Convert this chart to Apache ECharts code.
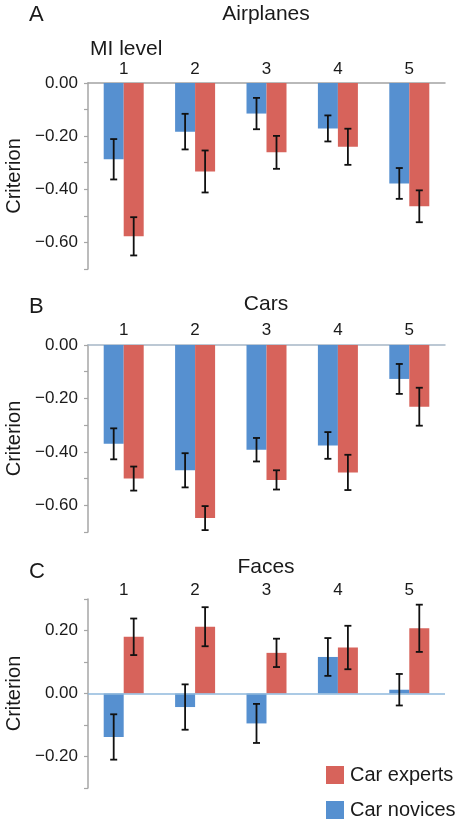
<!DOCTYPE html>
<html>
<head>
<meta charset="utf-8">
<script src="https://cdn.jsdelivr.net/npm/echarts@6/dist/echarts.min.js"></script>
<style>
  html, body { margin: 0; padding: 0; background: #fff; }
  #chart { width: 463px; height: 820px; }
</style>
</head>
<body>
<div id="chart"></div>
<script>
// ---- Data ----
const categories = ['1', '2', '3', '4', '5'];

const airNovices  = [-0.287, -0.183, -0.115, -0.171, -0.378];
const airNovErr   = [0.076, 0.067, 0.059, 0.049, 0.058];
const airExperts  = [-0.577, -0.333, -0.261, -0.240, -0.464];
const airExpErr   = [0.072, 0.079, 0.062, 0.068, 0.060];

const carNovices  = [-0.370, -0.469, -0.392, -0.376, -0.127];
const carNovErr   = [0.058, 0.064, 0.044, 0.050, 0.056];
const carExperts  = [-0.500, -0.648, -0.505, -0.477, -0.231];
const carExpErr   = [0.045, 0.045, 0.036, 0.066, 0.071];

const faceNovices = [-0.138, -0.043, -0.095, 0.116, 0.012];
const faceNovErr  = [0.072, 0.072, 0.062, 0.060, 0.050];
const faceExperts = [0.180, 0.212, 0.129, 0.146, 0.207];
const faceExpErr  = [0.058, 0.062, 0.045, 0.069, 0.075];

const panelTitles = ['Airplanes', 'Cars', 'Faces'];
const panelLetters = ['A', 'B', 'C'];
const seriesNames = ['Car novices', 'Car experts'];

// ---- Styles ----
const FONT = "'Liberation Sans', Arial, Helvetica, sans-serif";
const BLUE = '#5690d0';
const RED = '#d7635b';
const TEXT = '#1a1a1a';
const AXIS = '#a6a6a6';
const BAR_W = 20;

const chart = echarts.init(document.getElementById('chart'), null, { renderer: 'canvas' });

function tickFmt(v) {
  const k = Math.round(v * 10);
  if (k % 2 !== 0) return '';
  const s = Math.abs(v).toFixed(2);
  return (k < 0 ? '\u2212' : '') + s;
}

function errRenderer(offset) {
  return function (params, api) {
    const i = api.value(0), v = api.value(1), e = api.value(2);
    const lo = api.coord([i, v - e]);
    const hi = api.coord([i, v + e]);
    const x = lo[0] + offset;
    const cap = 3.5;
    const st = { stroke: '#111', lineWidth: 1.8 };
    return {
      type: 'group',
      children: [
        { type: 'line', shape: { x1: x, y1: lo[1], x2: x, y2: hi[1] }, style: st },
        { type: 'line', shape: { x1: x - cap, y1: lo[1], x2: x + cap, y2: lo[1] }, style: st },
        { type: 'line', shape: { x1: x - cap, y1: hi[1], x2: x + cap, y2: hi[1] }, style: st }
      ]
    };
  };
}

const panels = [
  { nov: airNovices, novErr: airNovErr, exp: airExperts, expErr: airExpErr,
    top: 83, height: 186, min: -0.7, max: 0, axisColor: '#a3a3a3', labelMargin: 5, zeroLine: false },
  { nov: carNovices, novErr: carNovErr, exp: carExperts, expErr: carExpErr,
    top: 345, height: 187, min: -0.7, max: 0, axisColor: '#a7b6c6', labelMargin: 6, zeroLine: false },
  { nov: faceNovices, novErr: faceNovErr, exp: faceExperts, expErr: faceExpErr,
    top: 599, height: 189, min: -0.3, max: 0.3, axisColor: '#8fb9dd', labelMargin: 0, zeroLine: true }
];

const grid = [], xAxis = [], yAxis = [], series = [];
panels.forEach((p, gi) => {
  grid.push({ left: 88, right: 18, top: p.top, height: p.height, containLabel: false, outerBoundsMode: 'none' });
  xAxis.push({
    type: 'category', gridIndex: gi, data: categories, position: 'top',
    boundaryGap: true,
    axisLine: { show: !p.zeroLine, onZero: false, lineStyle: { color: p.axisColor, width: 1.5 } },
    axisTick: { show: false },
    axisLabel: { color: TEXT, fontSize: 17, fontFamily: FONT, margin: p.labelMargin }
  });
  yAxis.push({
    type: 'value', gridIndex: gi, min: p.min, max: p.max, interval: 0.1,
    name: 'Criterion', nameLocation: 'middle', nameRotate: 90, nameGap: 63,
    nameTextStyle: { color: TEXT, fontSize: 20, fontFamily: FONT },
    axisLine: { show: true, lineStyle: { color: AXIS, width: 1.5 } },
    axisTick: { show: true, length: 4, lineStyle: { color: AXIS, width: 1.2 } },
    splitLine: { show: false },
    axisLabel: { color: TEXT, fontSize: 17, fontFamily: FONT, margin: 10, formatter: tickFmt }
  });
  const novBar = {
    name: seriesNames[0], type: 'bar', xAxisIndex: gi, yAxisIndex: gi,
    data: p.nov, barWidth: BAR_W, barGap: '0%',
    itemStyle: { color: BLUE }, silent: true
  };
  if (p.zeroLine) {
    novBar.markLine = {
      silent: true, symbol: 'none', label: { show: false },
      lineStyle: { color: p.axisColor, width: 1.5, type: 'solid' },
      data: [{ yAxis: 0 }]
    };
  }
  series.push(novBar);
  series.push({
    name: seriesNames[1], type: 'bar', xAxisIndex: gi, yAxisIndex: gi,
    data: p.exp, barWidth: BAR_W, barGap: '0%',
    itemStyle: { color: RED }, silent: true
  });
  series.push({
    name: 'err-nov-' + gi, type: 'custom', xAxisIndex: gi, yAxisIndex: gi,
    renderItem: errRenderer(-BAR_W / 2), encode: { x: 0, y: 1 }, z: 5,
    data: categories.map((c, i) => [i, p.nov[i], p.novErr[i]]), silent: true
  });
  series.push({
    name: 'err-exp-' + gi, type: 'custom', xAxisIndex: gi, yAxisIndex: gi,
    renderItem: errRenderer(BAR_W / 2), encode: { x: 0, y: 1 }, z: 5,
    data: categories.map((c, i) => [i, p.exp[i], p.expErr[i]]), silent: true
  });
});

const titleStyle = { color: TEXT, fontSize: 21, fontWeight: 'normal', fontFamily: FONT, lineHeight: 21 };
const letterStyle = { color: TEXT, fontSize: 22, fontWeight: 'normal', fontFamily: FONT, lineHeight: 22 };

const option = {
  animation: false,
  backgroundColor: '#fff',
  title: [
    { text: panelLetters[0], left: 29, top: 4, padding: 0, textStyle: letterStyle },
    { text: panelTitles[0], left: 266, top: 4, textAlign: 'center', padding: 0, textStyle: titleStyle },
    { text: 'MI level', left: 90, top: 39, padding: 0, textStyle: titleStyle },
    { text: panelLetters[1], left: 29, top: 296, padding: 0, textStyle: letterStyle },
    { text: panelTitles[1], left: 266, top: 294, textAlign: 'center', padding: 0, textStyle: titleStyle },
    { text: panelLetters[2], left: 29, top: 561, padding: 0, textStyle: letterStyle },
    { text: panelTitles[2], left: 266, top: 557, textAlign: 'center', padding: 0, textStyle: titleStyle }
  ],
  legend: {
    data: [seriesNames[1], seriesNames[0]],
    orient: 'vertical', left: 326, top: 765, padding: 0,
    itemWidth: 18, itemHeight: 18, itemGap: 15, icon: 'rect',
    textStyle: { color: TEXT, fontSize: 20, fontFamily: FONT, padding: [0, 0, 0, 1] },
    selectedMode: false
  },
  grid, xAxis, yAxis, series
};
chart.setOption(option);
</script>
</body>
</html>
